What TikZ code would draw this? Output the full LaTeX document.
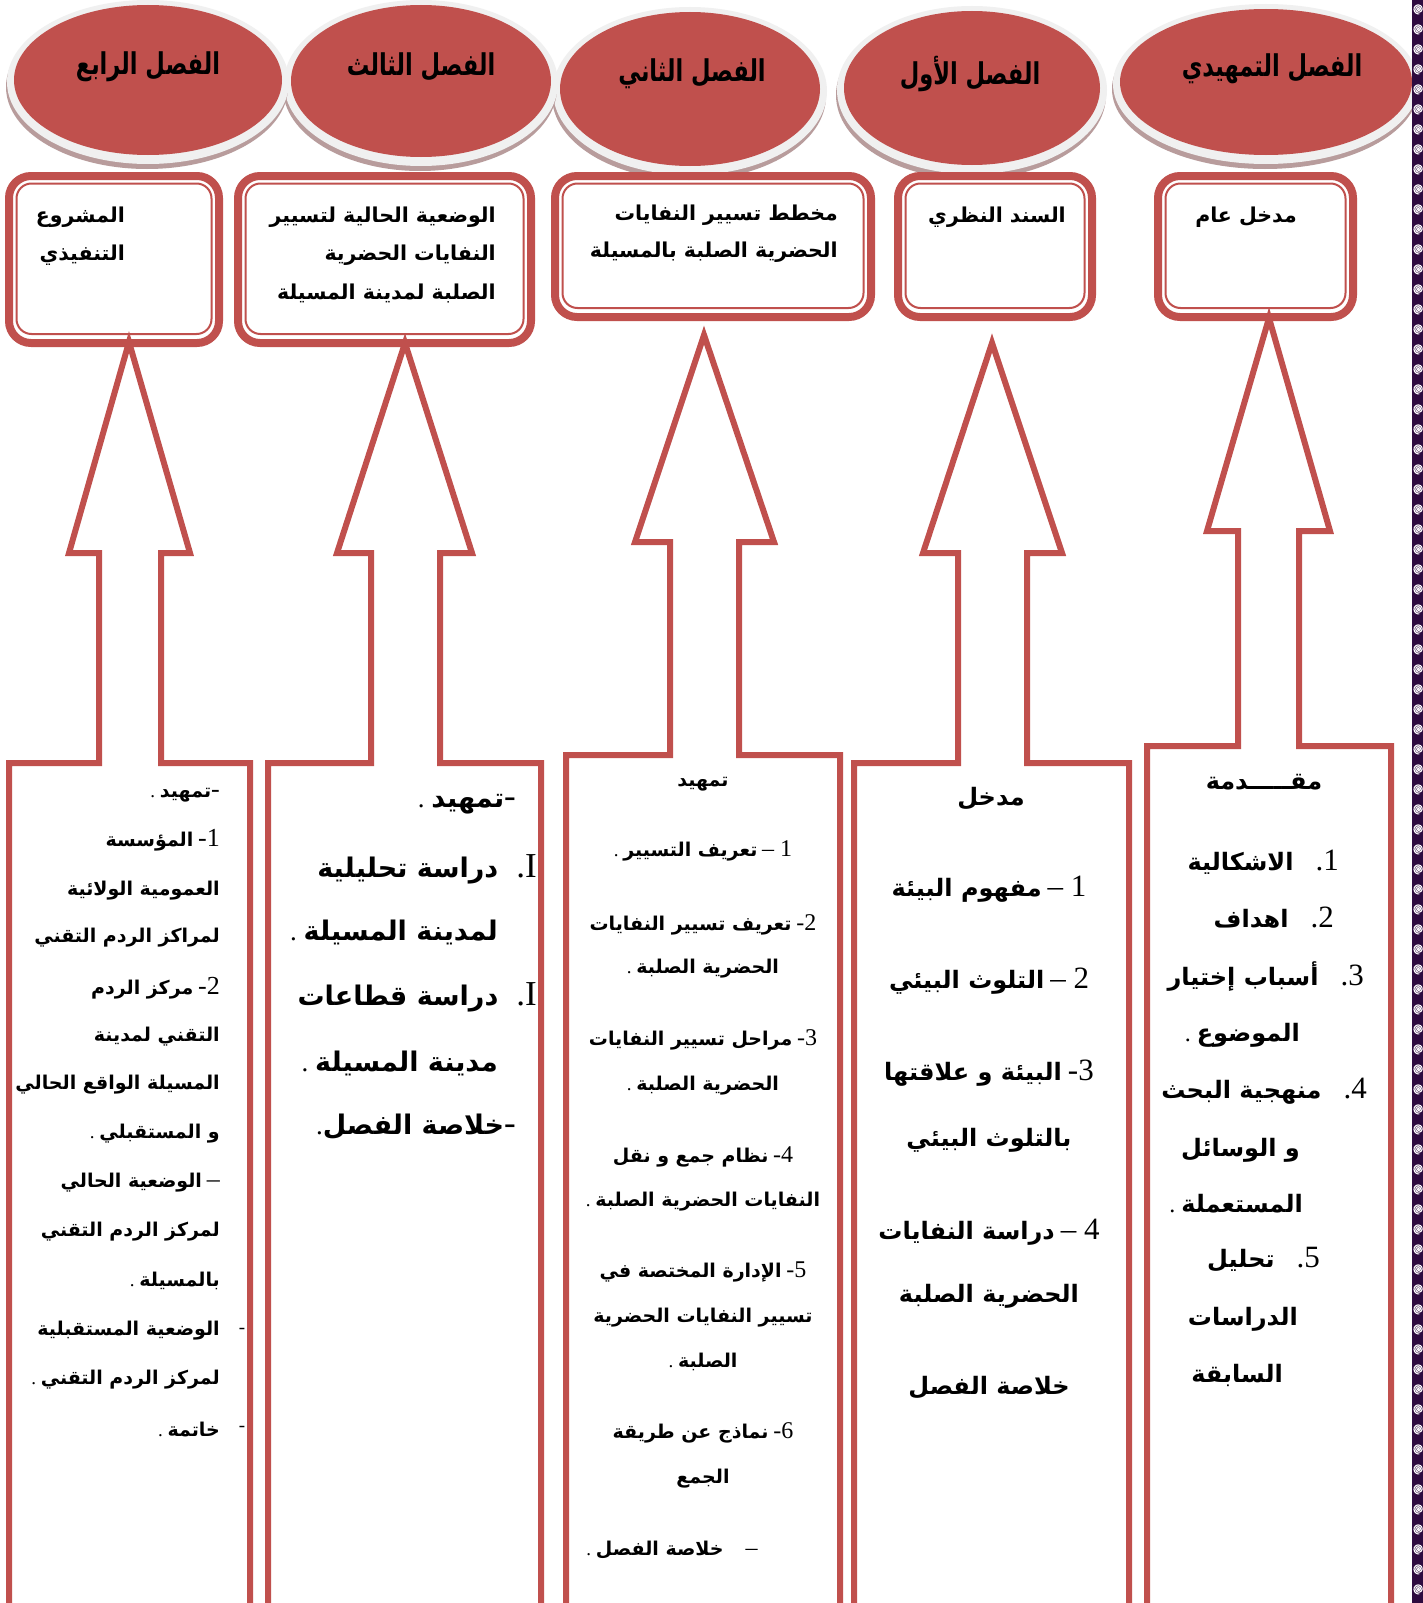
\documentclass[tikz,border=0pt]{standalone}
\usepackage{graphicx}
\usepackage{fontspec}
\setmainfont{Liberation Serif}
\newfontfamily\arfont[Script=Arabic]{DejaVu Sans}
\TeXXeTstate=1
\newcommand\AR[1]{{\arfont\bfseries\beginR #1\endR}}
\def\numsz{20}
\newcommand\N[1]{{\fontsize{\numsz}{\numsz}\selectfont #1}}
\definecolor{accred}{HTML}{C0504D}
\definecolor{rimgray}{HTML}{F0F0F0}
\definecolor{shadowc}{HTML}{B89C9C}
\definecolor{stripc}{HTML}{2E0B3F}
\tikzset{
  redline/.style={draw=accred, line width=6pt, line join=miter},
  title/.style={inner sep=0pt, font=\fontsize{30}{34}\selectfont},
  boxtxt/.style={inner sep=0pt, font=\fontsize{20.5}{24}\selectfont},
  czero/.style={inner sep=0pt, font=\def\numsz{31}\fontsize{24}{28}\selectfont},
  cone/.style={inner sep=0pt, font=\def\numsz{31}\fontsize{24}{28}\selectfont},
  ctwo/.style={inner sep=0pt, font=\def\numsz{24}\fontsize{19}{22}\selectfont},
  cthree/.style={inner sep=0pt, font=\def\numsz{35}\fontsize{27}{32}\selectfont},
  cfour/.style={inner sep=0pt, font=\def\numsz{26}\fontsize{19}{23}\selectfont},
}
\newcommand\TT[1]{\scalebox{0.75}[1]{\AR{#1}}}
\begin{document}
\begin{tikzpicture}[x=1pt,y=-1pt]
\useasboundingbox (0,0) rectangle (1423,1603);
\clip (0,0) rectangle (1423,1603);
\fill[white] (0,0) rectangle (1423,1603);

% ---------- ellipses ----------
\foreach \cx/\cy/\rx/\ry in {1266/82/146/73, 972/88/128/77, 690/89/130/77, 421/81/130/76, 148/80/134/75}{
  \fill[shadowc] (\cx-1,\cy+7) ellipse [x radius=\rx+7, y radius=\ry+7];
  \fill[rimgray] (\cx,\cy+2) ellipse [x radius=\rx+7, y radius=\ry+7];
  \fill[accred] (\cx,\cy) ellipse [x radius=\rx, y radius=\ry];
}
\node[title] (t0) at (1272,69) {\TT{الفصل التمهيدي}};
\node[title] (t1) at (970,74) {\TT{الفصل الأول}};
\node[title] (t2) at (692,74) {\TT{الفصل الثاني}};
\node[title] (t3) at (421,67) {\TT{الفصل الثالث}};
\node[title] (t4) at (148,67) {\TT{الفصل الرابع}};

% ---------- double boxes ----------
\foreach \xa/\ya/\xb/\yb in {1154/172/1357/322, 894/172/1096/322, 551/172/875/322, 234/172/535/348, 5/172/223/348}{
  \draw[accred, line width=8pt, rounded corners=22pt] (\xa+4,\ya+4) rectangle (\xb-4,\yb-5);
  \draw[accred, line width=2pt, rounded corners=15pt] (\xa+11.5,\ya+11.5) rectangle (\xb-11.5,\yb-14);
}
\node[boxtxt, anchor=center] (b0) at (1246,217) {\AR{مدخل عام}};
\node[boxtxt, anchor=center] (b1) at (997,217) {\AR{السند النظري}};
\node[boxtxt, anchor=east] (b2a) at (838,215) {\AR{مخطط تسيير النفايات}};
\node[boxtxt, anchor=east] (b2b) at (838,252) {\AR{الحضرية الصلبة بالمسيلة}};
\node[boxtxt, anchor=east] (b3a) at (496,217) {\AR{الوضعية الحالية لتسيير}};
\node[boxtxt, anchor=east] (b3b) at (496,255) {\AR{النفايات الحضرية}};
\node[boxtxt, anchor=east] (b3c) at (496,293) {\AR{الصلبة لمدينة المسيلة}};
\node[boxtxt, anchor=east] (b4a) at (125,217) {\AR{المشروع}};
\node[boxtxt, anchor=east] (b4b) at (125,255) {\AR{التنفيذي}};

% ---------- block arrows ----------
\foreach \tx/\ty/\hb/\hL/\hR/\sL/\sR/\sy/\oL/\oR in {
  1269/318/531/1207/1330/1238/1299/746/1147/1391,
  992/343/553/923/1062/958/1027/763/854/1129,
  704/335/542/635/774/670/739/755/566/840,
  405/343/553/337/472/371/440/763/268/541,
  129/342/553/69/190/99/161/763/9/250}{
  \draw[redline] (\oL,1620) -- (\oL,\sy) -- (\sL,\sy) -- (\sL,\hb) -- (\hL,\hb) -- (\tx,\ty)
     -- (\hR,\hb) -- (\sR,\hb) -- (\sR,\sy) -- (\oR,\sy) -- (\oR,1620);
}

% ---------- column 0 (rightmost) ----------
\node[czero] (c0h) at (1264,782) {\AR{مقـــــدمة}};
\node[czero, anchor=east] (c0a) at (1339,862) {\AR{الاشكالية}\hspace{22pt}\N{.1}};
\node[czero, anchor=east] (c0b) at (1334,918) {\AR{اهداف}\hspace{22pt}\N{.2}};
\node[czero, anchor=east] (c0c) at (1364,976) {\AR{أسباب إختيار}\hspace{22pt}\N{.3}};
\node[czero, anchor=east] (c0d) at (1300,1035) {.\ \AR{الموضوع}};
\node[czero, anchor=east] (c0e) at (1367,1091) {\AR{منهجية البحث}\hspace{22pt}\N{.4}};
\node[czero, anchor=east] (c0f) at (1300,1150) {\AR{و الوسائل}};
\node[czero, anchor=east] (c0g) at (1303,1204) {.\ \AR{المستعملة}};
\node[czero, anchor=east] (c0i) at (1320,1260) {\AR{تحليل}\hspace{22pt}\N{.5}};
\node[czero, anchor=east] (c0j) at (1298,1319) {\AR{الدراسات}};
\node[czero, anchor=east] (c0k) at (1283,1375) {\AR{السابقة}};

% ---------- column 1 ----------
\node[cone] (c1h) at (991,799) {\AR{مدخل}};
\node[cone] (c1a) at (989,889) {\AR{مفهوم البيئة}\ \N{–\ 1}};
\node[cone] (c1b) at (989,981) {\AR{التلوث البيئي}\ \N{–\ 2}};
\node[cone] (c1c) at (989,1073) {\AR{البيئة و علاقتها}\ \N{-3}};
\node[cone] (c1d) at (989,1140) {\AR{بالتلوث البيئي}};
\node[cone] (c1e) at (989,1232) {\AR{دراسة النفايات}\ \N{–\ 4}};
\node[cone] (c1f) at (989,1296) {\AR{الحضرية الصلبة}};
\node[cone] (c1g) at (989,1388) {\AR{خلاصة الفصل}};

% ---------- column 2 ----------
\node[ctwo] (c2h) at (703,784) {\AR{تمهيد}};
\node[ctwo] (c2a) at (703,851) {.\ \AR{تعريف التسيير}\ \N{–\ 1}};
\node[ctwo] (c2b) at (703,925) {\AR{تعريف تسيير النفايات}\ \N{-2}};
\node[ctwo] (c2c) at (703,969) {.\ \AR{الحضرية الصلبة}};
\node[ctwo] (c2d) at (703,1040) {\AR{مراحل تسيير النفايات}\ \N{-3}};
\node[ctwo] (c2e) at (703,1086) {.\ \AR{الحضرية الصلبة}};
\node[ctwo] (c2f) at (703,1157) {\AR{نظام جمع و نقل}\ \N{-4}};
\node[ctwo] (c2g) at (703,1202) {.\ \AR{النفايات الحضرية الصلبة}};
\node[ctwo] (c2i) at (703,1272) {\AR{الإدارة المختصة في}\ \N{-5}};
\node[ctwo] (c2j) at (703,1318) {\AR{تسيير النفايات الحضرية}};
\node[ctwo] (c2k) at (703,1362) {.\ \AR{الصلبة}};
\node[ctwo] (c2l) at (703,1433) {\AR{نماذج عن طريقة}\ \N{-6}};
\node[ctwo] (c2m) at (703,1479) {\AR{الجمع}};
\node[ctwo] (c2n) at (672,1550) {.\ \AR{خلاصة الفصل}\hspace{22pt}\N{–}};

% ---------- column 3 ----------
\node[cthree, anchor=east] (c3a) at (516,804) {.\ \AR{تمهيد}\N{-}};
\node[cthree, anchor=east] (c3b) at (537,869) {\AR{دراسة تحليلية}\hspace{18pt}\N{.I}};
\node[cthree, anchor=east] (c3c) at (498,932) {.\ \AR{لمدينة المسيلة}};
\node[cthree, anchor=east] (c3d) at (537,997) {\AR{دراسة قطاعات}\hspace{18pt}\N{.I}};
\node[cthree, anchor=east] (c3e) at (498,1063) {.\ \AR{مدينة المسيلة}};
\node[cthree, anchor=east] (c3f) at (516,1127) {.\AR{خلاصة الفصل}\N{-}};

% ---------- column 4 ----------
\node[cfour, anchor=east] (c4a) at (220,795) {.\ \AR{تمهيد}\N{-}};
\node[cfour, anchor=east] (c4b) at (220,840) {\AR{المؤسسة}\ \N{-1}};
\node[cfour, anchor=east] (c4c) at (220,891) {\AR{العمومية الولائية}};
\node[cfour, anchor=east] (c4d) at (220,938) {\AR{لمراكز الردم التقني}};
\node[cfour, anchor=east] (c4e) at (220,988) {\AR{مركز الردم}\ \N{-2}};
\node[cfour, anchor=east] (c4f) at (220,1037) {\AR{التقني لمدينة}};
\node[cfour, anchor=east] (c4g) at (220,1085) {\AR{المسيلة الواقع الحالي}};
\node[cfour, anchor=east] (c4h) at (220,1134) {.\ \AR{و المستقبلي}};
\node[cfour, anchor=east] (c4i) at (220,1183) {\AR{الوضعية الحالي}\ \N{–}};
\node[cfour, anchor=east] (c4j) at (220,1232) {\AR{لمركز الردم التقني}};
\node[cfour, anchor=east] (c4k) at (220,1281) {.\ \AR{بالمسيلة}};
\node[cfour, anchor=east] (c4l) at (220,1331) {\AR{الوضعية المستقبلية}};
\node[cfour] (c4ld) at (242,1331) {-};
\node[cfour, anchor=east] (c4m) at (220,1380) {.\ \AR{لمركز الردم التقني}};
\node[cfour, anchor=east] (c4n) at (220,1429) {.\ \AR{خاتمة}};
\node[cfour] (c4nd) at (242,1429) {-};

% ---------- decorative right strip ----------
\begin{scope}
\clip (1412,0) rectangle (1423,1603);
\fill[stripc] (1412,0) rectangle (1423,1603);
\foreach \k in {0,...,80}{
  \draw[white, line width=1.1pt] plot[domain=0:1000, samples=45, variable=\t]
    ({1418.5+0.005*\t*cos(\t)}, {9+20*\k-0.005*\t*sin(\t)});
}
\end{scope}
\end{tikzpicture}
\end{document}
